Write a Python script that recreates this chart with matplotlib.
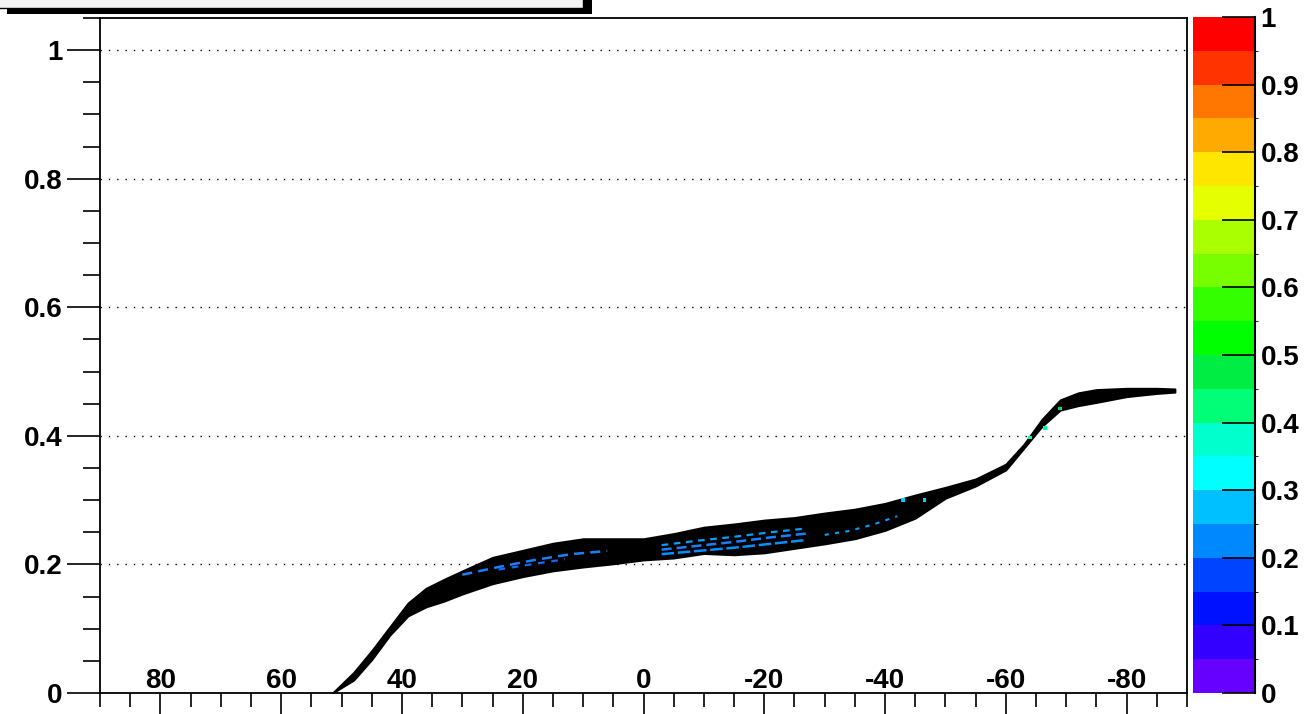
import numpy as np
import matplotlib
matplotlib.use("Agg")
from matplotlib import pyplot as plt
from matplotlib.colors import ListedColormap, BoundaryNorm
from matplotlib.patches import Rectangle
import matplotlib.cm as cm

plt.rcParams['font.family'] = ['Liberation Sans', 'DejaVu Sans']
plt.rcParams['font.weight'] = 'bold'
plt.rcParams['axes.unicode_minus'] = False

# ridge of the 2D distribution: upper / lower edge of the black contour band
band_x = [51.5, 48, 45, 42, 39, 36, 33, 30, 25, 20, 15, 10, 5, 0, -5, -10, -15, -20,
          -25, -30, -35, -40, -45, -50, -55, -60, -63, -66, -69, -72, -75, -80, -85, -88]
band_hi = [0.0, 0.032, 0.066, 0.103, 0.140, 0.163, 0.177, 0.190, 0.211, 0.222, 0.233, 0.240,
           0.240, 0.240, 0.248, 0.258, 0.263, 0.269, 0.273, 0.280, 0.286, 0.295, 0.308, 0.320,
           0.333, 0.356, 0.387, 0.426, 0.456, 0.467, 0.472, 0.474, 0.474, 0.473]
band_lo = [0.0, 0.020, 0.052, 0.090, 0.120, 0.134, 0.143, 0.154, 0.170, 0.181, 0.190, 0.196,
           0.201, 0.207, 0.210, 0.217, 0.215, 0.218, 0.225, 0.232, 0.240, 0.253, 0.272, 0.303,
           0.322, 0.347, 0.381, 0.415, 0.440, 0.447, 0.452, 0.461, 0.466, 0.468]

# filled levels showing through inside the band
streak_a_x = [30, 24, 18, 12, 6]
streak_a_y = [0.184, 0.196, 0.207, 0.216, 0.221]
streak_b_x = [24, 18, 13]
streak_b_y = [0.192, 0.201, 0.208]
core_x = [-3, -9, -15, -21, -27]
core1_y = [0.216, 0.221, 0.226, 0.232, 0.238]
core2_y = [0.223, 0.229, 0.235, 0.242, 0.248]
core3_y = [0.230, 0.237, 0.243, 0.250, 0.256]
tail_x = [-30, -34, -38, -42]
tail_y = [0.246, 0.252, 0.262, 0.275]
dot_x = [-43, -46.5, -64, -66.5, -69]
dot_y = [0.300, 0.300, 0.397, 0.412, 0.443]
dot_c = ['#00d0ff', '#00d0ff', '#00ffaa', '#00ff99', '#00dd66']

# palette, 20 levels 0..1
levels = np.linspace(0, 1, 21)
palette = ['#6600ff', '#3300ff', '#0011ff', '#0044ff', '#0088ff', '#00c0ff', '#00ffff',
           '#00ffcc', '#00ff77', '#00ee44', '#00ff00', '#33ff00', '#77ff00', '#aaff00',
           '#e6ff00', '#ffe600', '#ffaa00', '#ff7700', '#ff3300', '#ff0000']
cbar_ticks = [0, 0.1, 0.2, 0.3, 0.4, 0.5, 0.6, 0.7, 0.8, 0.9, 1.0]
cbar_labels = ['0', '0.1', '0.2', '0.3', '0.4', '0.5', '0.6', '0.7', '0.8', '0.9', '1']

x_ticks = [80, 60, 40, 20, 0, -20, -40, -60, -80]
y_ticks = [0, 0.2, 0.4, 0.6, 0.8, 1.0]
y_labels = ['0', '0.2', '0.4', '0.6', '0.8', '1']

W, H = 1310, 714
fig = plt.figure(figsize=(W / 100, H / 100), dpi=100)
ax = fig.add_axes([100 / W, 21 / H, 1087 / W, 675 / H])

ax.fill_between(band_x, band_lo, band_hi, color='black', lw=1.4, edgecolor='black', zorder=3)
ax.plot(streak_a_x, streak_a_y, color='#1a80ff', lw=1.8, dashes=(4, 2.5), zorder=4)
ax.plot(streak_b_x, streak_b_y, color='#1a66ff', lw=1.6, dashes=(3, 3), zorder=4)
ax.plot(core_x, core1_y, color='#0090ff', lw=1.8, dashes=(5, 1.5), zorder=4)
ax.plot(core_x, core2_y, color='#1a80ff', lw=1.8, dashes=(4, 2), zorder=4)
ax.plot(core_x, core3_y, color='#00a0ff', lw=1.6, dashes=(3, 2.5), zorder=4)
ax.plot(tail_x, tail_y, color='#00a0ff', lw=1.5, dashes=(2, 3), zorder=4)
ax.scatter(dot_x, dot_y, s=6, c=dot_c, marker='s', lw=0, zorder=4)

ax.set_xlim(90, -90)
ax.set_ylim(0, 1.05)

ax.set_xticks(x_ticks)
ax.set_xticklabels([str(v) for v in x_ticks])
ax.set_xticks(np.arange(-90, 91, 5), minor=True)
ax.set_yticks(y_ticks)
ax.set_yticklabels(y_labels)
ax.set_yticks(np.arange(0, 1.051, 0.05), minor=True)

# x labels sit inside the frame, above the axis line
ax.tick_params(axis='x', which='major', direction='out', length=16, width=1.2,
               labelsize=20, pad=-34)
ax.tick_params(axis='x', which='minor', direction='out', length=10, width=1.2)
ax.tick_params(axis='y', which='major', direction='out', length=24, width=1.2,
               labelsize=20, pad=3)
ax.tick_params(axis='y', which='minor', direction='out', length=12, width=1.2)
for s in ax.spines.values():
    s.set_linewidth(1.3)

ax.grid(axis='y', which='major', color='black', lw=1, linestyle=(0, (1, 5)), zorder=1)
ax.set_axisbelow(True)

# colour scale on the right
cax = fig.add_axes([1193 / W, 21 / H, 62 / W, 676 / H])
sm = cm.ScalarMappable(norm=BoundaryNorm(levels, 20), cmap=ListedColormap(palette))
cb = fig.colorbar(sm, cax=cax, ticks=cbar_ticks)
cb.outline.set_visible(False)
cax.set_yticklabels(cbar_labels)
cax.tick_params(direction='in', length=24, width=1.2, labelsize=20, pad=4, colors='black')
cax.plot([1, 1], [0, 1], transform=cax.transAxes, color='black', lw=1.5, clip_on=False)

# title pave, cut by the top edge
fig.patches.append(Rectangle((7 / W, (H - 14) / H), 585 / W, 30 / H, transform=fig.transFigure,
                             facecolor='black', edgecolor='none'))
fig.patches.append(Rectangle((-5 / W, (H - 8) / H), 588 / W, 30 / H, transform=fig.transFigure,
                             facecolor='#f4f4f4', edgecolor='black', lw=1))

fig.savefig('out.png', dpi=100)
